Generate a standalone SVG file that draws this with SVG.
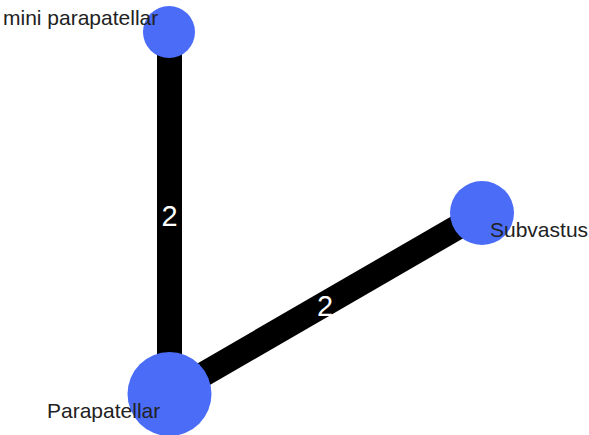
<svg xmlns="http://www.w3.org/2000/svg" width="589" height="435" viewBox="0 0 589 435">
<style>
.edge{stroke:#000;stroke-width:25;fill:none}
.node{fill:#4a6cf7}
.lbl{font-family:"Liberation Sans",Arial,sans-serif;font-size:21px;fill:#222}
.elbl{font-family:"Liberation Sans",Arial,sans-serif;font-size:29px;fill:#fff;text-anchor:middle}
</style>
<rect width="589" height="435" fill="#fff"/>
<g id="connectors">
<line class="edge" x1="169.5" y1="32" x2="169.5" y2="394"/>
<line class="edge" x1="169.5" y1="394" x2="482" y2="213"/>
<text class="elbl" x="169.5" y="226">2</text>
<text class="elbl" x="325" y="316">2</text>
</g>
<g id="node-mini-parapatellar">
<circle class="node" cx="169" cy="32" r="26"/>
<text class="lbl" x="3" y="25">mini parapatellar</text>
</g>
<g id="node-parapatellar">
<circle class="node" cx="169.5" cy="394" r="42"/>
<text class="lbl" x="47" y="418">Parapatellar</text>
</g>
<g id="node-subvastus">
<circle class="node" cx="482" cy="213" r="32"/>
<text class="lbl" x="490" y="237">Subvastus</text>
</g>
</svg>
